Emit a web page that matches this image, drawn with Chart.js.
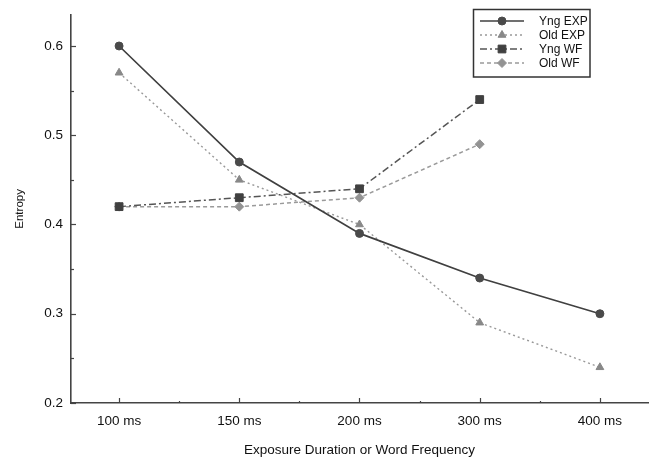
<!DOCTYPE html>
<html>
<head>
<meta charset="utf-8">
<script src="https://cdn.jsdelivr.net/npm/chart.js@4/dist/chart.umd.min.js"></script>
<style>
html,body{margin:0;padding:0;background:#fff;}
#wrap{width:659px;height:459px;}
</style>
</head>
<body>
<div id="wrap"><canvas id="c" width="659" height="459"></canvas></div>
<script>
// ---- data ----
const categories = ['100 ms', '150 ms', '200 ms', '300 ms', '400 ms'];
const yngEXP = [0.60, 0.47, 0.39, 0.34, 0.30];
const oldEXP = [0.57, 0.45, 0.40, 0.29, 0.24];
const yngWF  = [0.42, 0.43, 0.44, 0.54];
const oldWF  = [0.42, 0.42, 0.43, 0.49];
const seriesNames = ['Yng EXP', 'Old EXP', 'Yng WF', 'Old WF'];
const yTicks = [0.2, 0.3, 0.4, 0.5, 0.6];

const toPts = arr => arr.map((v, i) => ({x: i, y: v}));
const FONT = '"Liberation Sans", Arial, Helvetica, sans-serif';
const TXT = '#111';

const datasets = [
  {label: seriesNames[0], data: toPts(yngEXP), borderColor: '#404040', borderWidth: 1.7, borderDash: [],
   pointStyle: 'circle', pointRadius: 4, pointBackgroundColor: '#4a4a4a', pointBorderColor: '#4a4a4a', pointBorderWidth: 1},
  {label: seriesNames[1], data: toPts(oldEXP), borderColor: '#999', borderWidth: 1.4, borderDash: [2, 3],
   pointStyle: 'triangle', pointRadius: 4.5, pointBackgroundColor: '#888', pointBorderColor: '#888', pointBorderWidth: 1},
  {label: seriesNames[2], data: toPts(yngWF), borderColor: '#555', borderWidth: 1.5, borderDash: [7, 3, 2, 3],
   pointStyle: 'rect', pointRadius: 5.5, pointBackgroundColor: '#404040', pointBorderColor: '#404040', pointBorderWidth: 1},
  {label: seriesNames[3], data: toPts(oldWF), borderColor: '#9a9a9a', borderWidth: 1.5, borderDash: [4, 3],
   pointStyle: 'rectRot', pointRadius: 4.5, pointBackgroundColor: '#939393', pointBorderColor: '#939393', pointBorderWidth: 1}
];
datasets.forEach(d => { d.tension = 0; d.fill = false; d.pointHoverRadius = d.pointRadius; });

const innerTicks = {
  id: 'innerTicks',
  afterDraw(chart) {
    const ctx = chart.ctx, xs = chart.scales.x, ys = chart.scales.y;
    ctx.save();
    ctx.strokeStyle = '#444';
    ctx.lineWidth = 1.2;
    ctx.setLineDash([]);
    const bottom = chart.chartArea.bottom, left = chart.chartArea.left;
    for (let i = 0; i < categories.length; i++) {
      [i, i + 0.5].forEach((v, k) => {
        if (v > categories.length - 1 + 0.5) return;
        const px = Math.round(xs.getPixelForValue(v)) + 0.5;
        const len = k === 0 ? 5 : 2;
        ctx.beginPath(); ctx.moveTo(px, bottom); ctx.lineTo(px, bottom - len); ctx.stroke();
      });
    }
    for (let i = 0; i < yTicks.length; i++) {
      const vals = [yTicks[i]];
      if (i < yTicks.length - 1) vals.push((yTicks[i] + yTicks[i + 1]) / 2);
      vals.forEach((v, k) => {
        const py = Math.round(ys.getPixelForValue(v)) + 0.5;
        const len = k === 0 ? 5 : 3;
        ctx.beginPath(); ctx.moveTo(left, py); ctx.lineTo(left + len, py); ctx.stroke();
      });
    }
    ctx.restore();
  }
};

const boxLegend = {
  id: 'boxLegend',
  afterDraw(chart) {
    const ctx = chart.ctx;
    ctx.save();
    ctx.strokeStyle = '#333';
    ctx.lineWidth = 1.5;
    ctx.setLineDash([]);
    ctx.strokeRect(473.5, 9.5, 116.5, 67.5);
    chart.data.datasets.forEach((d, i) => {
      const y = 21 + i * 14;
      ctx.strokeStyle = d.borderColor;
      ctx.lineWidth = d.borderWidth;
      ctx.setLineDash(d.borderDash || []);
      ctx.beginPath(); ctx.moveTo(480, y); ctx.lineTo(524, y); ctx.stroke();
      ctx.setLineDash([]);
      ctx.fillStyle = d.pointBackgroundColor;
      ctx.strokeStyle = d.pointBorderColor;
      ctx.lineWidth = 1;
      Chart.helpers.drawPoint(ctx, {pointStyle: d.pointStyle, radius: d.pointRadius, rotation: 0, borderWidth: 1}, 502, y);
      ctx.fillStyle = TXT;
      ctx.font = '12px ' + FONT;
      ctx.textBaseline = 'middle';
      ctx.textAlign = 'left';
      ctx.fillText(d.label, 539, y + 0.5);
    });
    ctx.restore();
  }
};

new Chart(document.getElementById('c'), {
  type: 'line',
  data: {datasets},
  options: {
    responsive: false,
    animation: false,
    devicePixelRatio: 1,
    layout: {padding: {top: 7, right: 11, left: 0, bottom: 0}},
    plugins: {legend: {display: false}, tooltip: {enabled: false}},
    scales: {
      x: {
        type: 'linear', min: -0.4, max: 4.4,
        grid: {display: false, drawTicks: false, tickLength: 0},
        border: {display: true, color: '#444', width: 1.6},
        ticks: {
          stepSize: 1, includeBounds: false, autoSkip: false, maxRotation: 0,
          padding: 10, color: TXT, font: {family: FONT, size: 13.5},
          callback: v => (Number.isInteger(v) && categories[v]) ? categories[v] : ''
        },
        title: {display: true, text: 'Exposure Duration or Word Frequency', color: TXT,
                font: {family: FONT, size: 13.5}, padding: {top: 0, bottom: 1}},
        afterFit: s => { s.height = 56; }
      },
      y: {
        type: 'linear', min: 0.2, max: 0.635,
        grid: {display: false, drawTicks: false, tickLength: 0},
        border: {display: true, color: '#444', width: 1.6},
        ticks: {
          stepSize: 0.1, includeBounds: false, padding: 8, color: TXT,
          font: {family: FONT, size: 13.5, lineHeight: 1.0},
          callback: v => v.toFixed(1)
        },
        title: {display: true, text: 'Entropy', color: TXT,
                font: {family: FONT, size: 11.5}, padding: {top: 13, bottom: 0}},
        afterFit: s => { s.width = 71; }
      }
    }
  },
  plugins: [innerTicks, boxLegend]
});
</script>
</body>
</html>
